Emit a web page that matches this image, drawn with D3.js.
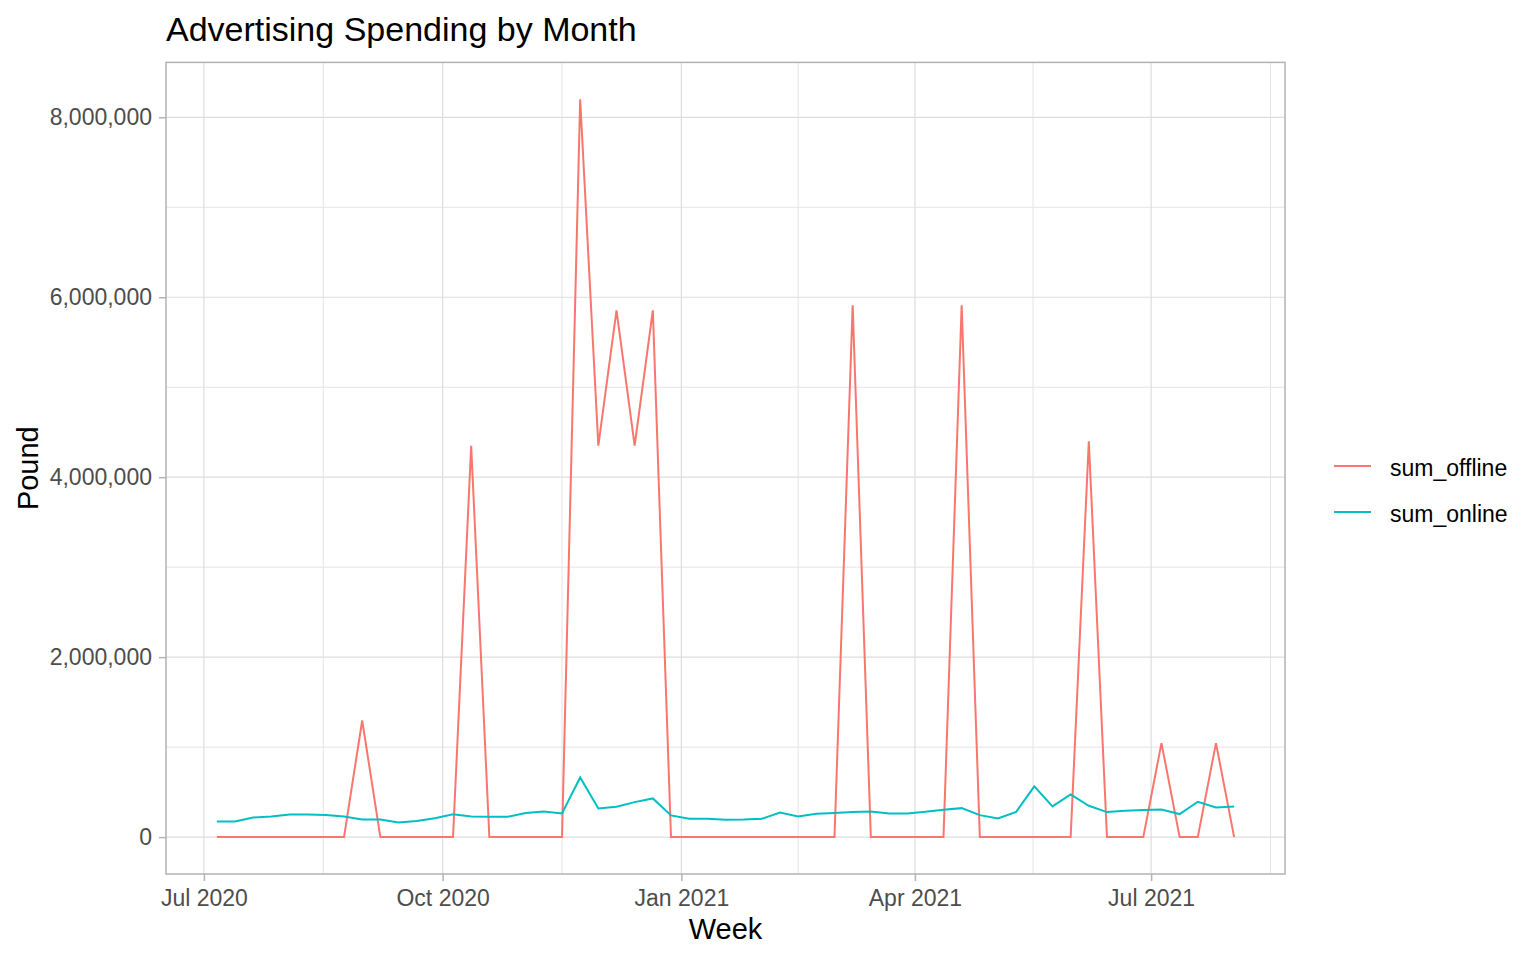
<!DOCTYPE html>
<html>
<head>
<meta charset="utf-8">
<script src="https://cdn.jsdelivr.net/npm/d3@7"></script>
<style>
  body { margin: 0; background: #fff; }
  text { font-family: "Liberation Sans", Arial, sans-serif; }
</style>
</head>
<body>
<script>
// ---------------- Advertising spending by week, two series ----------------

let w = 1536
let h = 960

// week start dates (Mondays)
let weeks = [
  "2020-07-06", "2020-07-13", "2020-07-20", "2020-07-27",
  "2020-08-03", "2020-08-10", "2020-08-17", "2020-08-24", "2020-08-31",
  "2020-09-07", "2020-09-14", "2020-09-21", "2020-09-28",
  "2020-10-05", "2020-10-12", "2020-10-19", "2020-10-26",
  "2020-11-02", "2020-11-09", "2020-11-16", "2020-11-23", "2020-11-30",
  "2020-12-07", "2020-12-14", "2020-12-21", "2020-12-28",
  "2021-01-04", "2021-01-11", "2021-01-18", "2021-01-25",
  "2021-02-01", "2021-02-08", "2021-02-15", "2021-02-22",
  "2021-03-01", "2021-03-08", "2021-03-15", "2021-03-22", "2021-03-29",
  "2021-04-05", "2021-04-12", "2021-04-19", "2021-04-26",
  "2021-05-03", "2021-05-10", "2021-05-17", "2021-05-24", "2021-05-31",
  "2021-06-07", "2021-06-14", "2021-06-21", "2021-06-28",
  "2021-07-05", "2021-07-12", "2021-07-19", "2021-07-26",
  "2021-08-02"
]

let sumOffline = [
  0, 0, 0, 0,
  0, 0, 0, 0, 1296000,
  0, 0, 0, 0,
  0, 4350000, 0, 0,
  0, 0, 0, 8200000, 4350000,
  5855000, 4350000, 5855000, 0,
  0, 0, 0, 0,
  0, 0, 0, 0,
  0, 5910000, 0, 0, 0,
  0, 0, 5910000, 0,
  0, 0, 0, 0, 0,
  4400000, 0, 0, 0,
  1045000, 0, 0, 1045000,
  0
]

let sumOnline = [
  174000, 174000, 218000, 228000,
  250000, 250000, 246000, 228000, 196000,
  196000, 163000, 180000, 210000,
  255000, 230000, 226000, 226000,
  267000, 285000, 263000, 663000, 319000,
  337000, 389000, 430000, 241000,
  204000, 204000, 193000, 196000,
  204000, 274000, 230000, 259000,
  267000, 278000, 285000, 263000, 263000,
  281000, 304000, 322000, 244000,
  207000, 281000, 563000, 341000, 474000,
  348000, 278000, 293000, 300000,
  307000, 256000, 393000, 330000,
  341000
]

let seriesNames = ["sum_offline", "sum_online"]
let seriesColors = ["#F8766D", "#00BFC4"]

let xTickDates = ["2020-07-01", "2020-10-01", "2021-01-01", "2021-04-01", "2021-07-01"]
let yTickValues = [0, 2000000, 4000000, 6000000, 8000000]

// panel
let pLeft = 166, pRight = 1285, pTop = 62.4, pBottom = 874

let parse = d3.utcParse("%Y-%m-%d")
let dates = weeks.map(parse)
let series = [sumOffline, sumOnline].map((vals, k) => ({
  name: seriesNames[k],
  color: seriesColors[k],
  points: vals.map((v, i) => [dates[i], v])
}))

// ggplot style 5% expansion
let xExt = d3.extent(dates)
let xPad = (xExt[1] - xExt[0]) * 0.05
let x = d3.scaleUtc()
  .domain([new Date(+xExt[0] - xPad), new Date(+xExt[1] + xPad)])
  .range([pLeft, pRight])

let allVals = sumOffline.concat(sumOnline)
let yExt = d3.extent(allVals)
let yPad = (yExt[1] - yExt[0]) * 0.05
let y = d3.scaleLinear()
  .domain([yExt[0] - yPad, yExt[1] + yPad])
  .range([pBottom, pTop])

let svg = d3.select("body")
  .append("svg")
  .attr("width", w)
  .attr("height", h)

// grid: minor then major
let xMajor = xTickDates.map(parse)
let xMinor = []
let xAll = [d3.utcMonth.offset(xMajor[0], -3)].concat(xMajor, [d3.utcMonth.offset(xMajor[xMajor.length - 1], 3)])
for (let i = 0; i < xAll.length - 1; i++) {
  let mid = new Date((+xAll[i] + +xAll[i + 1]) / 2)
  if (mid >= x.domain()[0] && mid <= x.domain()[1]) xMinor.push(mid)
}
let yMinor = []
let yStep = yTickValues[1] - yTickValues[0]
for (let i = 0; i <= yTickValues.length; i++) {
  let v = yTickValues[0] - yStep / 2 + i * yStep
  if (v >= y.domain()[0] && v <= y.domain()[1]) yMinor.push(v)
}

let grid = svg.append("g")
grid.selectAll(".xminor")
  .data(xMinor)
  .enter()
  .append("line")
    .attr("x1", d => x(d)).attr("x2", d => x(d))
    .attr("y1", pTop).attr("y2", pBottom)
    .attr("stroke", "#e4e4e4").attr("stroke-width", 1)
grid.selectAll(".yminor")
  .data(yMinor)
  .enter()
  .append("line")
    .attr("x1", pLeft).attr("x2", pRight)
    .attr("y1", d => y(d)).attr("y2", d => y(d))
    .attr("stroke", "#e4e4e4").attr("stroke-width", 1)
grid.selectAll(".xmajor")
  .data(xMajor)
  .enter()
  .append("line")
    .attr("x1", d => x(d)).attr("x2", d => x(d))
    .attr("y1", pTop).attr("y2", pBottom)
    .attr("stroke", "#dedede").attr("stroke-width", 1.2)
grid.selectAll(".ymajor")
  .data(yTickValues)
  .enter()
  .append("line")
    .attr("x1", pLeft).attr("x2", pRight)
    .attr("y1", d => y(d)).attr("y2", d => y(d))
    .attr("stroke", "#dedede").attr("stroke-width", 1.2)

// lines
let line = d3.line()
  .x(d => x(d[0]))
  .y(d => y(d[1]))

svg.selectAll(".series")
  .data(series)
  .enter()
  .append("path")
    .attr("d", d => line(d.points))
    .attr("fill", "none")
    .attr("stroke", d => d.color)
    .attr("stroke-width", 2)

// panel border
svg.append("rect")
  .attr("x", pLeft).attr("y", pTop)
  .attr("width", pRight - pLeft).attr("height", pBottom - pTop)
  .attr("fill", "none")
  .attr("stroke", "#b3b3b3")
  .attr("stroke-width", 1.5)

// axes
let xAxis = svg.append("g")
  .attr("transform", `translate(0,${pBottom})`)
  .call(d3.axisBottom(x)
    .tickValues(xMajor)
    .tickFormat(d3.utcFormat("%b %Y"))
    .tickSize(7)
    .tickPadding(9))
let yAxis = svg.append("g")
  .attr("transform", `translate(${pLeft},0)`)
  .call(d3.axisLeft(y)
    .tickValues(yTickValues)
    .tickFormat(d3.format(","))
    .tickSize(7)
    .tickPadding(7))

for (let ax of [xAxis, yAxis]) {
  ax.select(".domain").remove()
  ax.selectAll(".tick line").attr("stroke", "#b3b3b3").attr("stroke-width", 1.5)
  ax.selectAll(".tick text")
    .attr("fill", "#4d4d4d")
    .attr("font-size", "23px")
    .attr("font-family", "Liberation Sans, Arial, sans-serif")
}

// titles
svg.append("text")
  .text("Advertising Spending by Month")
  .attr("x", pLeft).attr("y", 41)
  .attr("font-size", "34px")
  .attr("fill", "#000")

svg.append("text")
  .text("Week")
  .attr("x", (pLeft + pRight) / 2).attr("y", 939)
  .attr("text-anchor", "middle")
  .attr("font-size", "29px")
  .attr("fill", "#000")

svg.append("text")
  .text("Pound")
  .attr("transform", `translate(38,${(pTop + pBottom) / 2}) rotate(-90)`)
  .attr("text-anchor", "middle")
  .attr("font-size", "29px")
  .attr("fill", "#000")

// legend
let legend = svg.selectAll(".legend")
  .data(series)
  .enter()
  .append("g")
    .attr("transform", (d, i) => `translate(1334,${466 + i * 46})`)
legend.append("line")
  .attr("x1", 0).attr("x2", 37)
  .attr("y1", 0).attr("y2", 0)
  .attr("stroke", d => d.color)
  .attr("stroke-width", 2)
legend.append("text")
  .text(d => d.name)
  .attr("x", 56).attr("y", 10)
  .attr("font-size", "23px")
  .attr("fill", "#000")
</script>
</body>
</html>
